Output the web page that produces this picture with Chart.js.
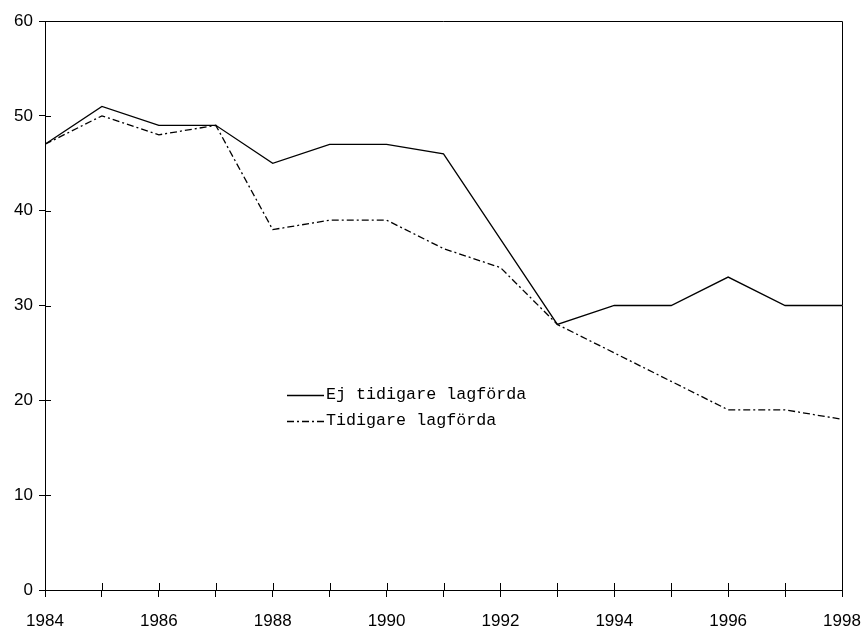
<!DOCTYPE html>
<html lang="sv">
<head>
  <meta charset="UTF-8">
  <title>Ej tidigare / tidigare lagförda</title>
  <style>
    html, body { margin: 0; padding: 0; background: #fff; }
    #wrap { width: 864px; height: 631px; }
  </style>
  <script src="https://cdn.jsdelivr.net/npm/chart.js"></script>
</head>
<body>
  <div id="wrap"><canvas id="chart" width="864" height="631"></canvas></div>
  <script>
    var years = [1984, 1985, 1986, 1987, 1988, 1989, 1990, 1991, 1992, 1993, 1994, 1995, 1996, 1997, 1998];
    var ejTidigare = [47, 51, 49, 49, 45, 47, 47, 46, 37, 28, 30, 30, 33, 30, 30];
    var tidigare = [47, 50, 48, 49, 38, 39, 39, 36, 34, 28, 25, 22, 19, 19, 18];
    var seriesLabels = ['Ej tidigare lagförda', 'Tidigare lagförda'];

    function toPoints(vals) {
      return years.map(function (y, i) { return { x: y, y: vals[i] }; });
    }

    // ram, inre tickmarkeringar och legend inne i diagrammet
    var framePlugin = {
      id: 'frame',
      afterDraw: function (chart) {
        var ctx = chart.ctx, a = chart.chartArea;
        var xs = chart.scales.x, ys = chart.scales.y;
        ctx.save();
        ctx.strokeStyle = '#000';
        ctx.lineWidth = 1;
        ctx.beginPath();
        ctx.moveTo(a.left, a.top + 0.5);
        ctx.lineTo(a.right + 0.5, a.top + 0.5);
        ctx.lineTo(a.right + 0.5, a.bottom);
        for (var i = 1; i < years.length - 1; i++) {
          var px = Math.round(xs.getPixelForValue(years[i])) + 0.5;
          ctx.moveTo(px, a.bottom);
          ctx.lineTo(px, a.bottom - 7);
        }
        for (var v = 10; v < 60; v += 10) {
          var py = Math.round(ys.getPixelForValue(v)) + 0.5;
          ctx.moveTo(a.left, py);
          ctx.lineTo(a.left + 6, py);
        }
        ctx.stroke();

        // legend
        ctx.font = '16.7px "Liberation Mono", monospace';
        ctx.fillStyle = '#000';
        ctx.textBaseline = 'middle';
        var rows = [395, 421];
        chart.data.datasets.forEach(function (ds, k) {
          ctx.beginPath();
          ctx.setLineDash(ds.borderDash || []);
          ctx.lineWidth = ds.borderWidth;
          ctx.moveTo(287, rows[k] + 0.5);
          ctx.lineTo(324, rows[k] + 0.5);
          ctx.stroke();
          ctx.setLineDash([]);
          ctx.fillText(ds.label, 326, rows[k]);
        });
        ctx.restore();
      }
    };

    new Chart(document.getElementById('chart').getContext('2d'), {
      type: 'line',
      data: {
        datasets: [{
          label: seriesLabels[0],
          data: toPoints(ejTidigare),
          borderColor: '#000',
          borderWidth: 1.3,
          pointRadius: 0,
          tension: 0,
          fill: false
        }, {
          label: seriesLabels[1],
          data: toPoints(tidigare),
          borderColor: '#000',
          borderWidth: 1.3,
          borderDash: [7, 3, 2, 3],
          pointRadius: 0,
          tension: 0,
          fill: false
        }]
      },
      options: {
        responsive: false,
        animation: false,
        layout: { padding: { left: 0, right: 22, top: 21, bottom: 0 } },
        plugins: {
          legend: { display: false },
          tooltip: { enabled: false }
        },
        scales: {
          x: {
            type: 'linear',
            min: 1984,
            max: 1998,
            afterFit: function (s) {
              s.height = 41;
              s.paddingLeft = 0;
              s.paddingRight = 0;
            },
            afterBuildTicks: function (s) {
              s.ticks = years.map(function (y) { return { value: y }; });
            },
            ticks: {
              autoSkip: false,
              maxRotation: 0,
              padding: 14,
              color: '#000',
              font: { family: '"Liberation Sans", Arial, sans-serif', size: 17 },
              callback: function (v) { return v % 2 === 0 ? String(v) : ''; }
            },
            grid: { drawOnChartArea: false, drawTicks: true, tickLength: 7, color: '#000' },
            border: { color: '#000', width: 1 }
          },
          y: {
            min: 0,
            max: 60,
            afterFit: function (s) {
              s.width = 45;
              s.paddingTop = 0;
              s.paddingBottom = 0;
            },
            ticks: {
              stepSize: 10,
              padding: 6,
              color: '#000',
              font: { family: '"Liberation Sans", Arial, sans-serif', size: 17 }
            },
            grid: { drawOnChartArea: false, drawTicks: true, tickLength: 6, color: '#000' },
            border: { color: '#000', width: 1 }
          }
        }
      },
      plugins: [framePlugin]
    });
  </script>
</body>
</html>
